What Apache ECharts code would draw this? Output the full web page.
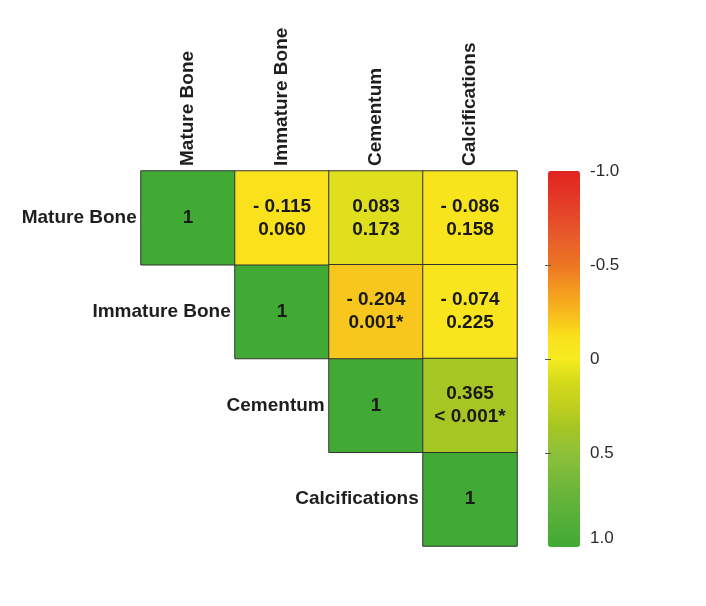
<!DOCTYPE html>
<html>
<head>
<meta charset="utf-8">
<script src="https://cdn.jsdelivr.net/npm/echarts@6/dist/echarts.min.js"></script>
<style>
html,body{margin:0;padding:0;background:#fff;}
#chart{width:706px;height:606px;}
</style>
</head>
<body>
<div id="chart"></div>
<script>
var categories = ['Mature Bone', 'Immature Bone', 'Cementum', 'Calcifications'];
// upper-triangle pairs: [column, row]
var pairCols = [1, 2, 3, 2, 3, 3];
var pairRows = [0, 0, 0, 1, 1, 2];
var rValues = [-0.115, 0.083, -0.086, -0.204, -0.074, 0.365];
var pLabels = ['0.060', '0.173', '0.158', '0.001*', '0.225', '< 0.001*'];
var diagValue = 1;
var scaleTicks = [-1, -0.5, 0, 0.5, 1];
var scaleInnerTicks = [-0.5, 0, 0.5];

var FONT = '"Liberation Sans", Arial, Helvetica, sans-serif';

function fmtR(r) {
  return r < 0 ? '- ' + Math.abs(r).toFixed(3) : r.toFixed(3);
}

var cellData = [];
categories.forEach(function (c, i) {
  cellData.push({ value: [i, i, diagValue], label: { formatter: '1' } });
});
rValues.forEach(function (r, k) {
  cellData.push({ value: [pairCols[k], pairRows[k], r], label: { formatter: fmtR(r) + '\n' + pLabels[k] } });
});

var rowLabelData = categories.map(function (c, i) { return { value: [i, i, diagValue], name: c }; });

var chart = echarts.init(document.getElementById('chart'), null, { renderer: 'canvas' });
chart.setOption({
  backgroundColor: '#ffffff',
  animation: false,
  grid: [
    { left: 141, top: 171, width: 376, height: 375 },
    { left: 548, top: 171, width: 32, height: 376 }
  ],
  xAxis: [
    {
      type: 'category', data: categories, position: 'top', gridIndex: 0,
      axisLine: { show: false }, axisTick: { show: false }, splitLine: { show: false },
      axisLabel: { rotate: -90, margin: 5, fontFamily: FONT, fontWeight: 'bold', fontSize: 19, color: '#1e1e1e' }
    },
    { type: 'value', gridIndex: 1, show: false, min: 0, max: 1 }
  ],
  yAxis: [
    {
      type: 'category', data: categories, inverse: true, gridIndex: 0,
      axisLine: { show: false }, axisTick: { show: false }, axisLabel: { show: false }, splitLine: { show: false }
    },
    {
      type: 'value', gridIndex: 1, min: -1, max: 1, interval: 0.5, inverse: true, position: 'right', zlevel: 1,
      axisLine: { show: false }, splitLine: { show: false },
      axisTick: { show: true, inside: true, length: 3, lineStyle: { color: '#555', width: 1 }, customValues: scaleInnerTicks },
      axisLabel: {
        margin: 10, fontFamily: FONT, fontSize: 17, color: '#2a2a2a',
        customValues: scaleTicks,
        verticalAlignMaxLabel: 'bottom',
        formatter: function (v) { return v === 0 ? '0' : v.toFixed(1); }
      }
    },
    {
      type: 'value', gridIndex: 1, min: -1, max: 1, interval: 0.5, inverse: true, position: 'left', zlevel: 1,
      axisLine: { show: false }, splitLine: { show: false },
      axisTick: { show: true, inside: true, length: 3, lineStyle: { color: '#555', width: 1 }, customValues: scaleInnerTicks },
      axisLabel: { show: false }
    }
  ],
  visualMap: {
    type: 'continuous', min: -1, max: 1, inverse: true, seriesIndex: 0,
    orient: 'vertical', left: 548, top: 171, itemWidth: 32, itemHeight: 376,
    padding: 0, calculable: false, text: null, showLabel: false, hoverLink: false,
    inRange: {
      color: ['#e2231f', '#e33526', '#e54a29', '#e8602a', '#ec7623', '#f4981f', '#f8b81d', '#f9e01c',
              '#f6ec20', '#d4d91b', '#c0cf1e', '#a4c525', '#8ec13a', '#78ba3a', '#64b43a', '#52ae38', '#40aa35']
    }
  },
  series: [
    {
      type: 'heatmap', xAxisIndex: 0, yAxisIndex: 0, data: cellData,
      itemStyle: { borderColor: '#333', borderWidth: 1 },
      label: { show: true, fontFamily: FONT, fontWeight: 'bold', fontSize: 19, lineHeight: 23, color: '#1a1a1a', align: 'center' },
      emphasis: { disabled: true }
    },
    {
      type: 'heatmap', xAxisIndex: 0, yAxisIndex: 0, data: rowLabelData, z: 5,
      itemStyle: { color: 'rgba(0,0,0,0)', borderWidth: 0 },
      label: {
        show: true, position: 'left', distance: 4, fontFamily: FONT, fontWeight: 'bold', fontSize: 19, color: '#1e1e1e',
        formatter: function (p) { return p.name; }
      },
      emphasis: { disabled: true }
    }
  ]
});
</script>
</body>
</html>
